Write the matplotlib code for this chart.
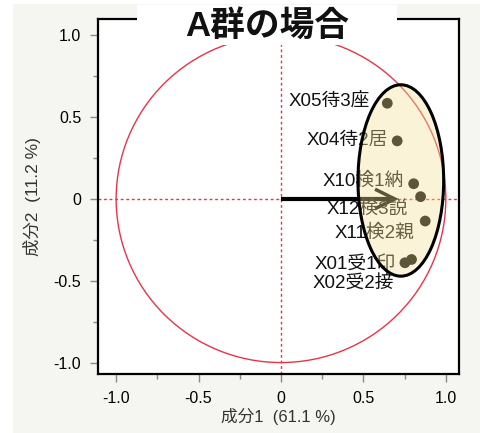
import matplotlib.pyplot as plt
from matplotlib.patches import Circle, Ellipse, Rectangle
import numpy as np

plt.rcParams['font.family'] = ['Liberation Sans', 'Noto Sans CJK JP', 'DejaVu Sans']

# loadings (component 1, component 2)
labels = ['X05待3座', 'X04待2居', 'X10検1納', 'X12検3説', 'X11検2親', 'X01受1印', 'X02受2接']
pc1 = [0.645, 0.705, 0.805, 0.847, 0.875, 0.752, 0.792]
pc2 = [0.585, 0.355, 0.093, 0.014, -0.135, -0.39, -0.37]
# label anchor (right end of text), in data units
lab_x = [0.54, 0.65, 0.745, 0.77, 0.81, 0.695, 0.685]
lab_y = [0.595, 0.355, 0.11, -0.06, -0.21, -0.40, -0.52]

title = 'A群の場合'
xlabel = '成分1  (61.1 %)'
ylabel = '成分2  (11.2 %)'
arrow_len = 0.69

fig = plt.figure(figsize=(4.81, 4.33), dpi=100)
fig.patches.append(Rectangle((13 / 481, 0), 1, 1 - 4 / 433, transform=fig.transFigure,
                             facecolor='#f5f5f1', edgecolor='none', zorder=-10))
ax = fig.add_axes([98 / 481, 1 - 374 / 433, 361 / 481, 355 / 433])
ax.set_facecolor('white')

ax.set_xlim(-1.11, 1.08)
ax.set_ylim(-1.07, 1.10)

red = '#e8344a'
ax.add_patch(Circle((0, 0), 1.0, fill=False, edgecolor=red, lw=1.0, zorder=1))
ax.axvline(0, color=red, ls=(0, (2, 2)), lw=1.0, zorder=1)
ax.axhline(0, color=red, ls=(0, (2, 2)), lw=1.0, zorder=1)

ax.plot([0, arrow_len], [0, 0], color='black', lw=3, solid_capstyle='butt', zorder=3)
ax.plot([arrow_len - 0.11, arrow_len, arrow_len - 0.11], [0.055, 0, -0.055],
        color='black', lw=2.5, zorder=3, solid_joinstyle='miter')

ax.scatter(pc1, pc2, s=60, color='black', zorder=4, edgecolors='none')
for t, x, y in zip(labels, lab_x, lab_y):
    ax.text(x, y, t, ha='right', va='center', fontsize=13.5, color='#111111', zorder=5)

# translucent ellipse over points and labels
ax.add_patch(Ellipse((0.727, 0.113), 0.52, 1.17, facecolor='#f5e296', edgecolor='none',
                     alpha=0.38, zorder=6))
ax.add_patch(Ellipse((0.727, 0.113), 0.52, 1.17, fill=False, edgecolor='black',
                     lw=2.2, zorder=7))

ax.set_xticks([-1.0, -0.5, 0, 0.5, 1.0])
ax.set_xticklabels(['-1.0', '-0.5', '0', '0.5', '1.0'])
ax.set_yticks([-1.0, -0.5, 0, 0.5, 1.0])
ax.set_yticklabels(['-1.0', '-0.5', '0', '0.5', '1.0'])
ax.set_xticks(np.arange(-1.0, 1.01, 0.25), minor=True)
ax.set_yticks(np.arange(-1.0, 1.01, 0.25), minor=True)
ax.tick_params(which='major', length=6, width=1, color='#888888', labelsize=11.5, pad=6)
ax.tick_params(which='minor', length=3.5, width=1, color='#888888')
ax.get_xticklines()[4].set_color(red)
ax.get_yticklines()[4].set_color(red)
for s in ax.spines.values():
    s.set_linewidth(1.6)
    s.set_color('black')

ax.set_xlabel(xlabel, fontsize=12, color='#333333', labelpad=2)
ax.set_ylabel(ylabel, fontsize=12.5, color='#333333', labelpad=9)

fig.patches.append(Rectangle((137 / 481, 1 - 45 / 433), 260 / 481, 40 / 433,
                             transform=fig.transFigure, facecolor='white',
                             edgecolor='none', zorder=5))
fig.text(267 / 481, 1 - 26 / 433, title, ha='center', va='center', fontsize=25,
         fontweight='bold', color='#111111', zorder=6)

fig.savefig('out.png', dpi=100)
